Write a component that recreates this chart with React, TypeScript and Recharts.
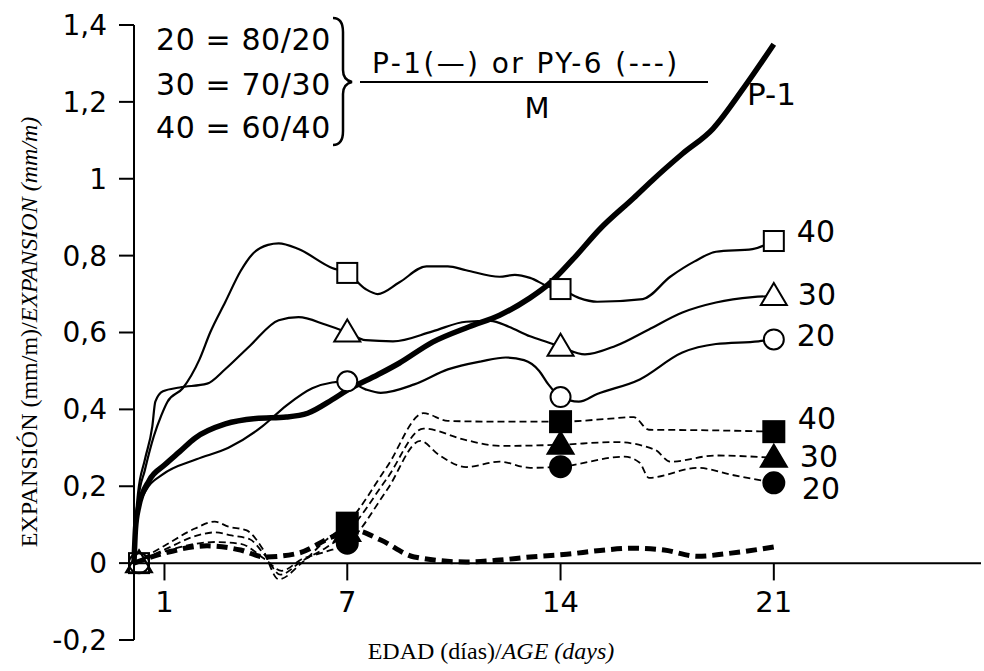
import { LineChart, Line, XAxis, YAxis, ReferenceLine, LabelList } from 'recharts';

type Pt = [number, number];

// P-1 / M (solid) and PY-6 / M (dashed), expansion in mm/m against age in days
const p1Thick: Pt[] = [
  [0, 0], [0.05, 0.09], [0.15, 0.145], [0.5, 0.215], [1, 0.255], [1.5, 0.29], [2, 0.325],
  [3, 0.362], [4, 0.376], [5, 0.38], [5.7, 0.39], [6.5, 0.425], [7, 0.45], [8, 0.49],
  [8.7, 0.52], [9.8, 0.575], [11, 0.615], [12, 0.645], [13, 0.69], [13.6, 0.725],
  [14.4, 0.79], [15.3, 0.87], [16.4, 0.95], [17, 0.995], [18, 1.065], [19, 1.13],
  [20, 1.235], [21, 1.35],
];
const p1Mix40: Pt[] = [
  [0, 0], [0.05, 0.08], [0.15, 0.17], [0.35, 0.24], [0.65, 0.33], [0.9, 0.385], [1.1, 0.42],
  [1.6, 0.455], [2.15, 0.53], [2.5, 0.6], [3, 0.68], [3.5, 0.76], [3.9, 0.805], [4.4, 0.828],
  [4.75, 0.832], [5.4, 0.817], [6.5, 0.768], [7, 0.755], [7.6, 0.713], [8, 0.7], [8.7, 0.73],
  [9.6, 0.772], [10.3, 0.772], [10.9, 0.762], [12, 0.745], [12.5, 0.75], [13, 0.742],
  [13.6, 0.72], [14, 0.713], [14.6, 0.69], [15.2, 0.68], [16.7, 0.687], [17.6, 0.745],
  [18.4, 0.785], [19.1, 0.81], [20.3, 0.817], [21, 0.838],
];
const p1Mix30: Pt[] = [
  [0, 0], [0.05, 0.1], [0.13, 0.18], [0.36, 0.27], [0.6, 0.355], [0.7, 0.42], [0.95, 0.447],
  [1.5, 0.457], [2.4, 0.467], [3, 0.505], [3.8, 0.565], [4.75, 0.632], [5.4, 0.64],
  [6.3, 0.62], [7, 0.6], [7.6, 0.58], [8.5, 0.577], [9.8, 0.603], [10.9, 0.628], [11.7, 0.63],
  [12.3, 0.615], [13, 0.59], [13.6, 0.574], [14, 0.563], [14.8, 0.543], [15.8, 0.565],
  [16.9, 0.608], [18, 0.652], [19.1, 0.678], [20.3, 0.692], [21, 0.695],
];
const p1Mix20: Pt[] = [
  [0, 0], [0.05, 0.08], [0.15, 0.14], [0.4, 0.19], [0.93, 0.23], [2.05, 0.27], [3.1, 0.3],
  [4.2, 0.355], [5, 0.41], [5.85, 0.455], [6.5, 0.47], [7, 0.473], [7.6, 0.452], [8.1, 0.443],
  [9.2, 0.465], [10.3, 0.504], [11.4, 0.525], [12.2, 0.535], [12.8, 0.528], [13.3, 0.5],
  [13.6, 0.465], [14, 0.432], [14.6, 0.42], [15.2, 0.44], [16.6, 0.478], [18, 0.548],
  [19.1, 0.57], [20.5, 0.577], [21, 0.582],
];
const py6Thick: Pt[] = [
  [0, 0], [1, 0.026], [2.4, 0.045], [3.5, 0.034], [4.3, 0.016], [5.4, 0.026], [6.5, 0.068],
  [7.2, 0.086], [8.1, 0.06], [9.2, 0.016], [10.9, 0.003], [12, 0.008], [13, 0.016],
  [14.2, 0.023], [15.3, 0.033], [16.4, 0.039], [17.4, 0.034], [18.5, 0.018], [19.6, 0.026],
  [21, 0.042],
];
const py6Mix40: Pt[] = [
  [0, 0], [1, 0.045], [2, 0.09], [2.65, 0.108], [3.1, 0.095], [3.7, 0.085], [4.2, 0.04],
  [4.75, -0.042], [5.5, 0], [6.3, 0.06], [7, 0.104], [8.3, 0.25], [9.5, 0.39], [10.3, 0.37],
  [12, 0.368], [14, 0.368], [15.5, 0.375], [16.4, 0.38], [16.9, 0.347], [18.5, 0.346],
  [21, 0.342],
];
const py6Mix30: Pt[] = [
  [0, 0], [1, 0.035], [2, 0.07], [2.65, 0.08], [3.2, 0.072], [3.8, 0.062], [4.3, 0.02],
  [4.8, -0.03], [5.5, 0.005], [6.3, 0.04], [7, 0.081], [8.3, 0.22], [9.5, 0.35],
  [10.9, 0.32], [12, 0.305], [14, 0.308], [15.8, 0.315], [17.1, 0.295], [17.6, 0.264],
  [19.1, 0.28], [21, 0.274],
];
const py6Mix20: Pt[] = [
  [0, 0], [1, 0.03], [2, 0.05], [2.65, 0.055], [3.5, 0.05], [4.3, 0.01], [4.85, -0.02],
  [5.5, 0.01], [6.3, 0.03], [7, 0.052], [8.3, 0.19], [9.4, 0.318], [10, 0.282], [10.9, 0.25],
  [12, 0.264], [13, 0.248], [14, 0.251], [16.1, 0.277], [16.6, 0.261], [16.9, 0.222],
  [18.5, 0.248], [19.6, 0.23], [21, 0.209],
];

const xTicks = [1, 7, 14, 21];
const yTicks = [-0.2, 0, 0.2, 0.4, 0.6, 0.8, 1, 1.2, 1.4];
const yTickLabels = ['-0,2', '0', '0,2', '0,4', '0,6', '0,8', '1', '1,2', '1,4'];
const markerDaysOpen = [0, 7, 14, 21];
const markerDaysFilled = [7, 14, 21];
const legendLines = ['20 = 80/20', '30 = 70/30', '40 = 60/40'];

const SANS = '"DejaVu Sans", sans-serif';
const SERIF = '"Liberation Serif", "DejaVu Serif", serif';

const toRows = (pts: Pt[]) => pts.map(([day, v]) => ({ day, v }));

type Shape = 'square' | 'triangle' | 'circle';

function Marker({ cx, cy, shape, fill }: { cx: number; cy: number; shape: Shape; fill: string }) {
  const sw = 2;
  const filled = fill === '#000';
  if (shape === 'square') {
    const s = filled ? 21 : 20;
    return <rect x={cx - s / 2} y={cy - s / 2} width={s} height={s} fill={fill} stroke="#000" strokeWidth={sw} />;
  }
  if (shape === 'triangle') {
    const w = 13;
    return (
      <polygon
        points={`${cx},${cy - 13} ${cx + w},${cy + 9} ${cx - w},${cy + 9}`}
        fill={fill}
        stroke="#000"
        strokeWidth={sw}
      />
    );
  }
  return <circle cx={cx} cy={cy} r={filled ? 10.5 : 10} fill={fill} stroke="#000" strokeWidth={sw} />;
}

function makeDot(shape: Shape, filled: boolean) {
  const days = filled ? markerDaysFilled : markerDaysOpen;
  return (p: any) => {
    const day = p.payload ? p.payload.day : -1;
    const show = days.includes(day);
    // at day 0 the three open markers sit on top of each other, so leave them hollow
    const fill = filled ? '#000' : day === 0 ? 'none' : '#fff';
    return (
      <g key={`dot-${shape}-${filled}-${p.index}`}>
        {show ? <Marker cx={p.cx + (day === 0 ? 5 : 0)} cy={p.cy} shape={shape} fill={fill} /> : null}
      </g>
    );
  };
}

function endLabel(text: string, lastIndex: number, dx: number, dy: number) {
  return (p: any) => {
    if (p.index !== lastIndex) return null;
    return (
      <text
        x={Number(p.x) + dx}
        y={Number(p.y) + dy}
        dominantBaseline="central"
        fontFamily={SANS}
        fontSize={30}
        fill="#000"
      >
        {text}
      </text>
    );
  };
}

const thinSolid = { stroke: '#000', strokeWidth: 2.2, type: 'monotone' as const, isAnimationActive: false };
const thinDash = { ...thinSolid, strokeWidth: 1.8, strokeDasharray: '7 4' };

export default function App() {
  return (
    <div style={{ position: 'absolute', left: 0, top: 0, width: 984, height: 671, background: '#fff' }}>
      <LineChart width={984} height={671} margin={{ top: 25, right: 3, bottom: 31, left: 0 }}>
        <XAxis type="number" dataKey="day" domain={[0, 27.8]} hide height={0} />
        <YAxis
          type="number"
          domain={[-0.2, 1.4]}
          ticks={yTicks}
          interval={0}
          width={134}
          tickSize={15}
          tickMargin={12}
          tickFormatter={(v: number) => yTickLabels[yTicks.indexOf(v)] ?? String(v)}
          axisLine={{ stroke: '#000', strokeWidth: 2 }}
          tickLine={{ stroke: '#000', strokeWidth: 2 }}
          tick={{ fill: '#000', fontSize: 28, fontFamily: SANS }}
        />
        <ReferenceLine y={0} stroke="#000" strokeWidth={2} />
        {xTicks.map((t) => (
          <ReferenceLine
            key={t}
            segment={[{ x: t, y: 0 }, { x: t, y: -0.045 }]}
            stroke="#000"
            strokeWidth={2}
            label={{ value: String(t), position: 'bottom', offset: 11, fill: '#000', fontSize: 29, fontFamily: SANS }}
          />
        ))}

        <Line data={toRows(py6Thick)} dataKey="v" type="monotone" stroke="#000" strokeWidth={5} strokeDasharray="11 6" dot={false} isAnimationActive={false} />
        <Line data={toRows(p1Thick)} dataKey="v" type="monotone" stroke="#000" strokeWidth={5.5} dot={false} isAnimationActive={false} />

        <Line data={toRows(p1Mix20)} dataKey="v" {...thinSolid} dot={makeDot('circle', false)}>
          <LabelList dataKey="v" content={endLabel('20', p1Mix20.length - 1, 23, -4)} />
        </Line>
        <Line data={toRows(p1Mix30)} dataKey="v" {...thinSolid} dot={makeDot('triangle', false)}>
          <LabelList dataKey="v" content={endLabel('30', p1Mix30.length - 1, 24, -1)} />
        </Line>
        <Line data={toRows(p1Mix40)} dataKey="v" {...thinSolid} dot={makeDot('square', false)}>
          <LabelList dataKey="v" content={endLabel('40', p1Mix40.length - 1, 23, -10)} />
        </Line>

        <Line data={toRows(py6Mix20)} dataKey="v" {...thinDash} dot={makeDot('circle', true)}>
          <LabelList dataKey="v" content={endLabel('20', py6Mix20.length - 1, 28, 6)} />
        </Line>
        <Line data={toRows(py6Mix30)} dataKey="v" {...thinDash} dot={makeDot('triangle', true)}>
          <LabelList dataKey="v" content={endLabel('30', py6Mix30.length - 1, 26, -1)} />
        </Line>
        <Line data={toRows(py6Mix40)} dataKey="v" {...thinDash} dot={makeDot('square', true)}>
          <LabelList dataKey="v" content={endLabel('40', py6Mix40.length - 1, 24, -13)} />
        </Line>
      </LineChart>

      <svg width={984} height={671} style={{ position: 'absolute', left: 0, top: 0, pointerEvents: 'none' }}>
        {legendLines.map((t, i) => (
          <text key={t} x={156} y={[50, 95, 138][i]} fontFamily={SANS} fontSize={30} letterSpacing={0.6} fill="#000">
            {t}
          </text>
        ))}
        <path
          d="M333 18 Q343 18 343 32 L343 70 Q343 80 352 82 Q343 84 343 94 L343 131 Q343 145 333 145"
          fill="none"
          stroke="#000"
          strokeWidth={2.5}
        />
        <text x={372} y={73} fontFamily={SANS} fontSize={28} letterSpacing={2.4} fill="#000">
          P-1(—) or PY-6 (---)
        </text>
        <line x1={360} y1={82} x2={708} y2={82} stroke="#000" strokeWidth={2} />
        <text x={537} y={118} textAnchor="middle" fontFamily={SANS} fontSize={29} fill="#000">
          M
        </text>
        <text x={747} y={105} fontFamily={SANS} fontSize={31} fill="#000">
          P-1
        </text>

        <text x={491} y={659} textAnchor="middle" fontFamily={SERIF} fontSize={24} fill="#000">
          EDAD (días)/<tspan fontStyle="italic">AGE (days)</tspan>
        </text>
        <text
          x={37}
          y={332}
          textAnchor="middle"
          transform="rotate(-90, 37, 332)"
          fontFamily={SERIF}
          fontSize={24}
          fill="#000"
        >
          EXPANSIÓN (mm/m)/<tspan fontStyle="italic">EXPANSION (mm/m)</tspan>
        </text>
      </svg>
    </div>
  );
}
